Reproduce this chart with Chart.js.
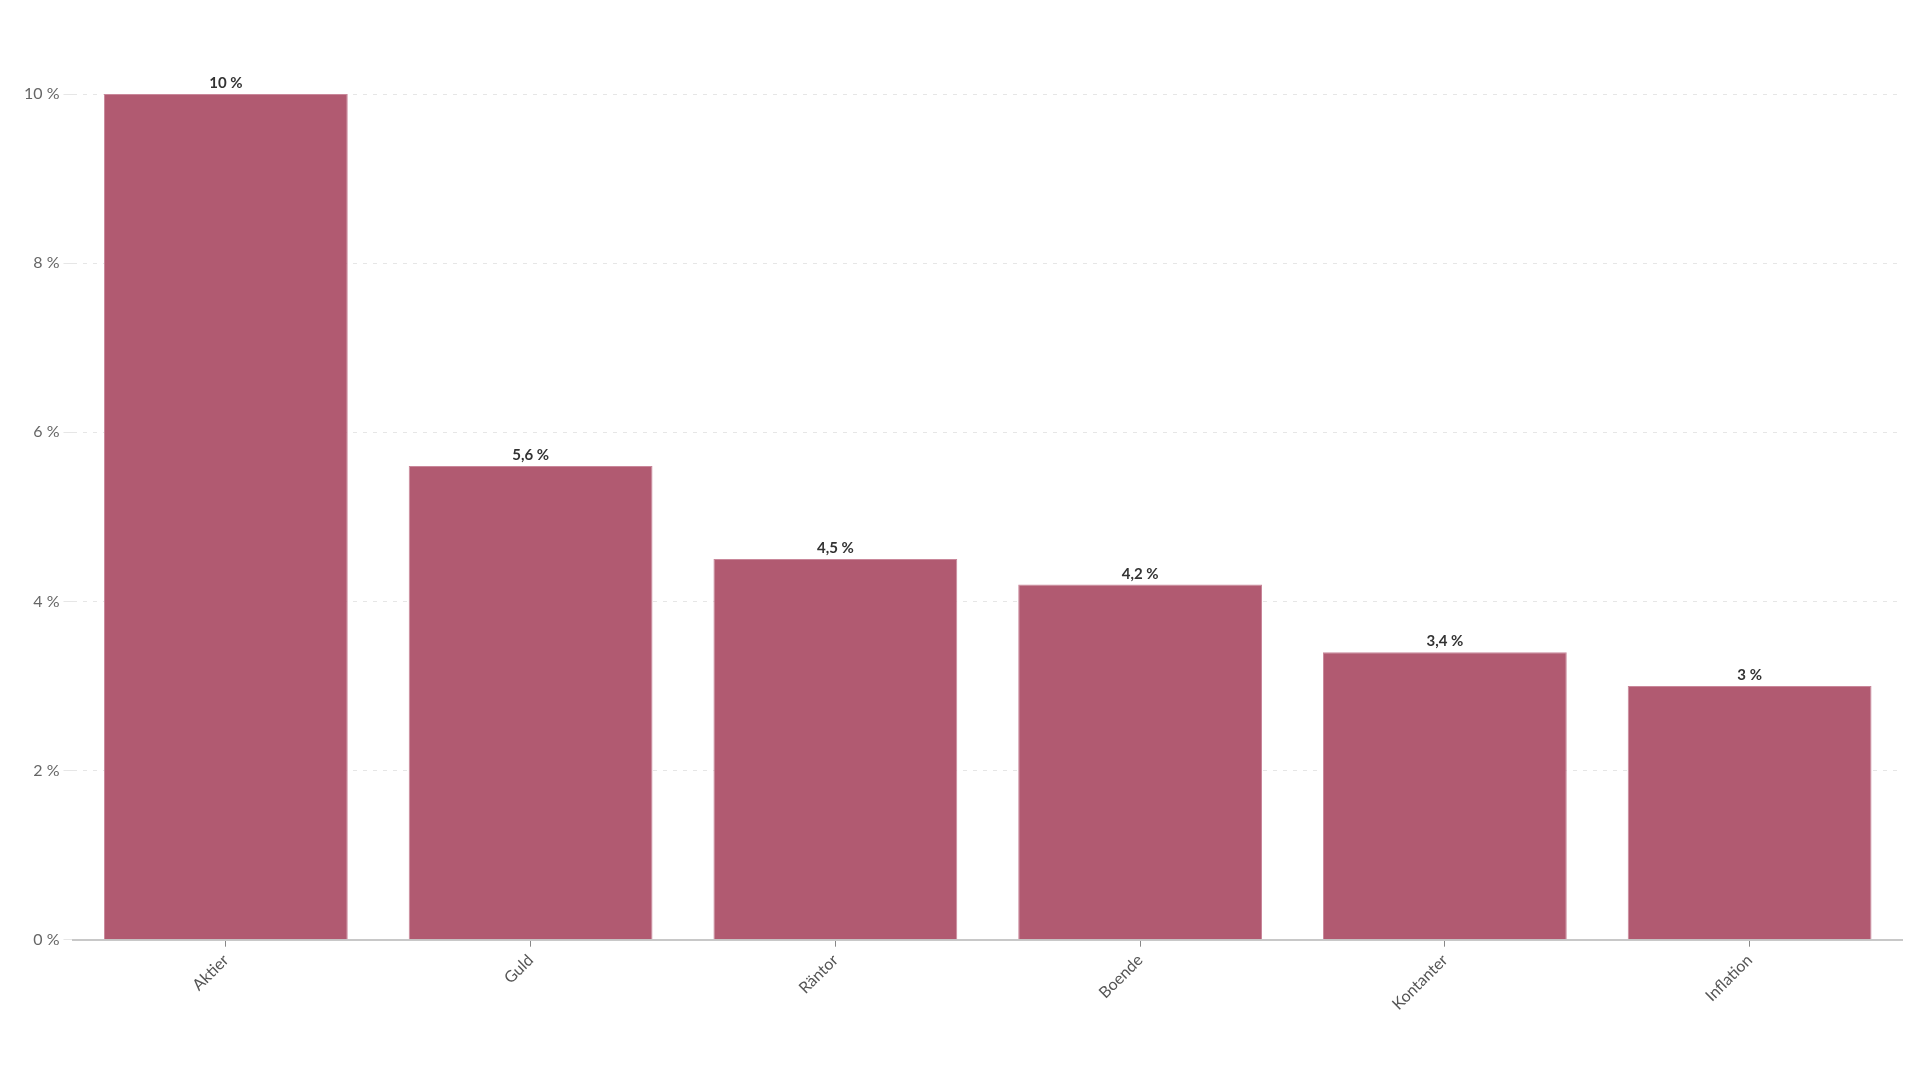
<!DOCTYPE html>
<html>
<head>
<meta charset="utf-8">
<script src="https://cdn.jsdelivr.net/npm/chart.js@4"></script>
<style>
  html, body { margin: 0; padding: 0; background: #fff; }
  #wrap { width: 1920px; height: 1080px; }
</style>
</head>
<body>
<div id="wrap"><canvas id="myChart"></canvas></div>
<script>
const categories = ['Aktier', 'Guld', 'Räntor', 'Boende', 'Kontanter', 'Inflation'];
const returns = [10, 5.6, 4.5, 4.2, 3.4, 3];
const yTicks = [0, 2, 4, 6, 8, 10];

const fmt = v => String(v).replace('.', ',') + ' %';

// draws the value above each bar
const barLabels = {
  id: 'barLabels',
  afterDatasetsDraw(chart) {
    const ctx = chart.ctx;
    const meta = chart.getDatasetMeta(0);
    ctx.save();
    ctx.font = 'bold 15px Lato';
    ctx.fillStyle = '#333';
    ctx.textAlign = 'center';
    ctx.textBaseline = 'bottom';
    meta.data.forEach((bar, i) => {
      ctx.fillText(fmt(returns[i]), bar.x, bar.y - 3);
    });
    ctx.restore();
  }
};

document.addEventListener('DOMContentLoaded', function () {
  const ctx = document.getElementById('myChart');
  new Chart(ctx, {
    type: 'bar',
    data: {
      labels: categories,
      datasets: [{
        data: returns,
        backgroundColor: '#b15a71',
        borderColor: '#c9879a',
        borderWidth: 1,
        categoryPercentage: 0.8,
        barPercentage: 1
      }]
    },
    plugins: [barLabels],
    options: {
      responsive: true,
      maintainAspectRatio: false,
      animation: false,
      layout: { padding: { top: 94, right: 18, bottom: 62, left: 20 } },
      plugins: {
        legend: { display: false },
        tooltip: { enabled: false }
      },
      scales: {
        x: {
          grid: {
            display: true,
            drawOnChartArea: false,
            offset: false,
            tickLength: 7,
            color: '#888'
          },
          border: { display: true, color: '#c8c8c8', width: 2 },
          ticks: {
            color: '#555',
            font: { family: 'Lato', size: 16 },
            minRotation: 45,
            maxRotation: 45,
            padding: 4
          }
        },
        y: {
          min: 0,
          max: 10,
          afterBuildTicks: axis => { axis.ticks = yTicks.map(v => ({ value: v })); },
          grid: { color: '#e6e6e6', lineWidth: 1, drawTicks: true, tickLength: 10 },
          border: { display: false, dash: [4, 6] },
          ticks: {
            color: '#666',
            font: { family: 'Lato', size: 16 },
            padding: 4,
            callback: value => value + ' %'
          }
        }
      }
    }
  });
});
</script>
</body>
</html>
